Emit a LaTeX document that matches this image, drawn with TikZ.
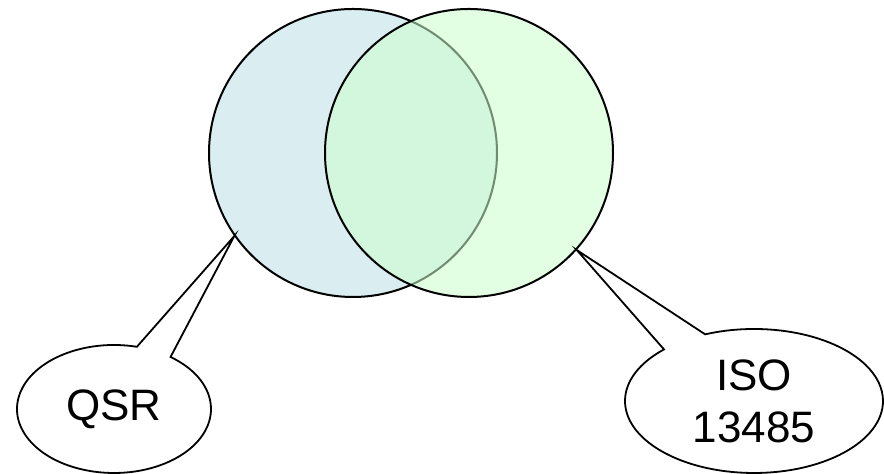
\documentclass[tikz,border=0pt]{standalone}
\usepackage{fontspec}
\setmainfont{Liberation Sans}
\usepackage{xcolor}
\usepackage{tikz}
\usetikzlibrary{shapes.callouts}

\definecolor{qsrblue}{RGB}{218,238,241}
\definecolor{isogreen}{RGB}{204,255,204}

\begin{document}
\begin{tikzpicture}[x=0.5pt,y=0.5pt,
    setcircle/.style={circle,draw=black,line width=1pt,minimum size=144pt,inner sep=0pt},
    bubble/.style={ellipse callout,draw=black,fill=white,line width=0.9pt,
      callout pointer arc=22,inner sep=0pt,align=center,
      font=\fontsize{22}{26}\selectfont}]
      \useasboundingbox (0,0) rectangle (884,474);
      \node[setcircle,fill=qsrblue] (qsrset) at (353,321) {};
      \node[setcircle,fill=isogreen,fill opacity=0.55] (isoset) at (469,321) {};
      \node[bubble,minimum width=97pt,minimum height=64pt,
        callout absolute pointer={(qsrset.215)}] (qsr) at (114,65) {QSR};
      \node[bubble,minimum width=129pt,minimum height=72pt,
        callout absolute pointer={(isoset.318)}] (iso) at (754,73) {ISO\\13485};
    \end{tikzpicture}
\end{document}
